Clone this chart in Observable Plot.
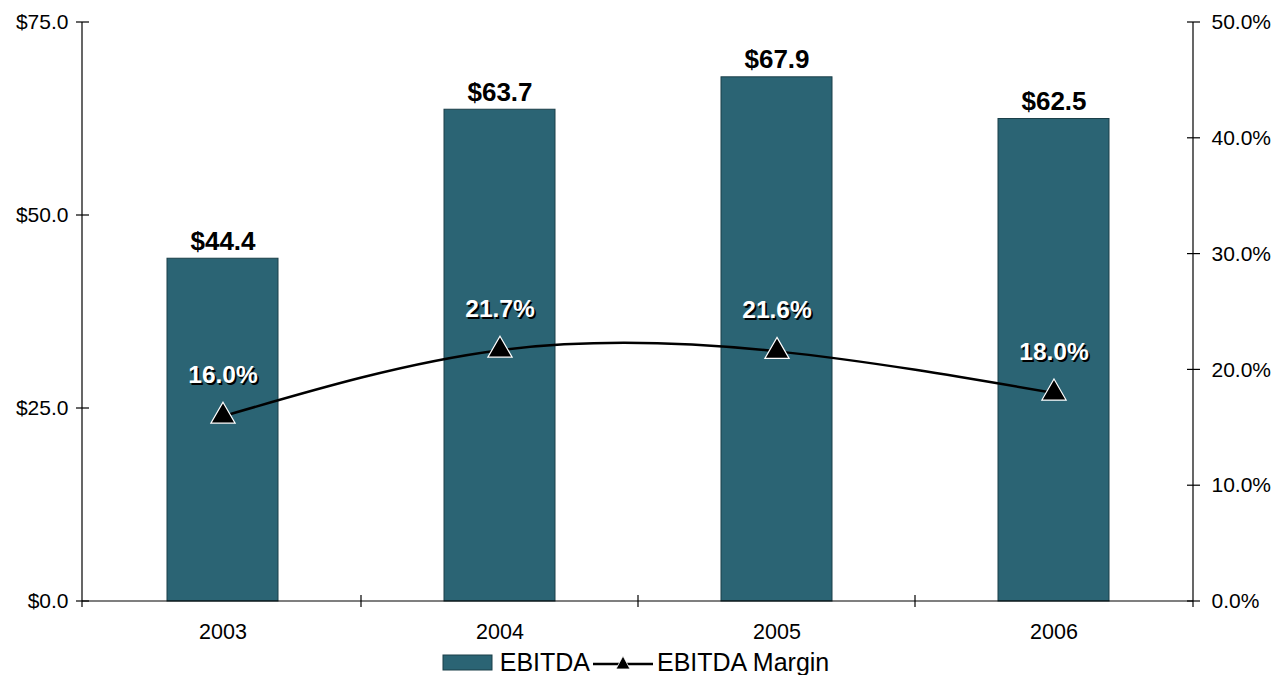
<!DOCTYPE html>
<html>
<head>
<meta charset="utf-8">
<script src="https://cdn.jsdelivr.net/npm/d3@7"></script>
<script src="https://cdn.jsdelivr.net/npm/@observablehq/plot@0.6"></script>
<style>
  html, body { margin: 0; padding: 0; background: #fff; }
  #chart { width: 1275px; height: 650px; }
  .legend { height: 25px; display: flex; justify-content: center; align-items: center; box-sizing: border-box; padding-right: 4px;
    font-family: "Liberation Sans", Arial, sans-serif; font-size: 25px; line-height: 25px; color: #000; }
  .legend .item { display: flex; align-items: center; }
  .legend svg { display: block; }
</style>
</head>
<body>
<div id="chart"></div>
<script>
const years = ["2003", "2004", "2005", "2006"];
const ebitda = [44.4, 63.7, 67.9, 62.5];
const margin = [16.0, 21.7, 21.6, 18.0];
const leftTicks = [0, 25, 50, 75];
const rightTicks = [0, 10, 20, 30, 40, 50];
const leftMax = 75, rightMax = 50;
const k = leftMax / rightMax;

const barColor = "#2b6474";
const barStroke = "#1b3f49";

const data = years.map((y, i) => ({year: y, ebitda: ebitda[i], margin: margin[i], m: margin[i] * k}));

function frameMark(index, scales, values, dims) {
  const {width, height, marginLeft, marginRight, marginTop, marginBottom} = dims;
  const x0 = marginLeft, x1 = width - marginRight, y0 = height - marginBottom, yT = marginTop;
  const g = d3.create("svg:g").attr("stroke", "#000").attr("stroke-width", 1.2).attr("fill", "none");
  g.append("line").attr("x1", x0).attr("x2", x0).attr("y1", yT).attr("y2", y0 + 6);
  g.append("line").attr("x1", x1).attr("x2", x1).attr("y1", yT).attr("y2", y0 + 6);
  g.append("line").attr("x1", x0).attr("x2", x1).attr("y1", y0).attr("y2", y0);
  for (const v of leftTicks) {
    const y = scales.y(v);
    g.append("line").attr("x1", x0 - 6).attr("x2", x0 + 7).attr("y1", y).attr("y2", y);
  }
  for (const v of rightTicks) {
    const y = scales.y(v * k);
    g.append("line").attr("x1", x1 - 6).attr("x2", x1 + 7).attr("y1", y).attr("y2", y);
  }
  const bw = scales.x.bandwidth();
  for (let i = 1; i < years.length; i++) {
    const xa = scales.x(years[i - 1]) + bw, xb = scales.x(years[i]);
    const xm = (xa + xb) / 2;
    g.append("line").attr("x1", xm).attr("x2", xm).attr("y1", y0 - 6).attr("y2", y0 + 6);
  }
  return g.node();
}

const chart = Plot.plot({
  width: 1275,
  height: 650,
  marginLeft: 82,
  marginRight: 82,
  marginTop: 22,
  marginBottom: 49,
  style: {fontFamily: "'Liberation Sans', Arial, sans-serif", fontSize: "21px", color: "#000", background: "#fff"},
  x: {domain: years, paddingInner: 0.6, paddingOuter: 0.3, label: null},
  y: {domain: [0, leftMax], label: null},
  marks: [
    Plot.barY(data, {x: "year", y: "ebitda", fill: barColor, stroke: barStroke, strokeWidth: 1}),
    Plot.axisY(leftTicks, {anchor: "left", tickSize: 0, tickPadding: 14, tickFormat: d => "$" + d.toFixed(1), label: null, fontSize: 21}),
    Plot.axisY(rightTicks.map(v => v * k), {anchor: "right", tickSize: 0, tickPadding: 18, tickFormat: d => (d / k).toFixed(1) + "%", label: null, fontSize: 21}),
    Plot.axisX({tickSize: 0, tickPadding: 22, label: null, fontSize: 21.5}),
    frameMark,
    Plot.line(data, {x: "year", y: "m", stroke: "#000", strokeWidth: 2.5, curve: "natural"}),
    Plot.dot(data, {x: "year", y: "m", symbol: "triangle", r: 9, fill: "#000", stroke: "#fff", strokeWidth: 1.2}),
    Plot.text(data, {x: "year", y: "ebitda", text: d => "$" + d.ebitda.toFixed(1), lineAnchor: "bottom", dy: -9, fontSize: 26, fontWeight: "bold", fill: "#000"}),
    Plot.text(data, {x: "year", y: "m", text: d => d.margin.toFixed(1) + "%", lineAnchor: "middle", dy: -39, dx: 1.8, fontSize: 24.5, fontWeight: "bold", fill: "#000"}),
    Plot.text(data, {x: "year", y: "m", text: d => d.margin.toFixed(1) + "%", lineAnchor: "middle", dy: -41, fontSize: 24.5, fontWeight: "bold", fill: "#fff"})
  ]
});
document.getElementById("chart").appendChild(chart);

const legend = document.createElement("div");
legend.className = "legend";
legend.innerHTML = `
  <div class="item"><svg width="52" height="18"><rect x="1" y="1" width="49" height="15" fill="${barColor}" stroke="${barStroke}"/></svg><span style="margin-left:6px">EBITDA</span></div>
  <div class="item" style="margin-left:2px"><svg width="62" height="20"><line x1="1" x2="61" y1="11" y2="11" stroke="#000" stroke-width="2.5"/><path d="M31,3 L38,16 L24,16 Z" fill="#000" stroke="#fff" stroke-width="0.8"/></svg><span style="margin-left:3px">EBITDA Margin</span></div>`;
document.body.appendChild(legend);
</script>
</body>
</html>
